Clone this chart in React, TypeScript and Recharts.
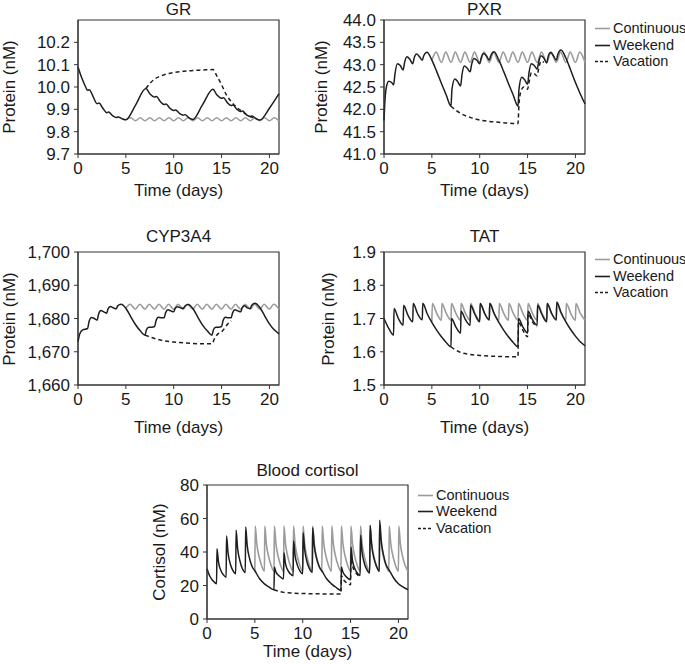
import { LineChart, Line, XAxis, YAxis, ReferenceArea } from 'recharts';

type Pt = [number, number];

const dayTicks = [0, 5, 10, 15, 20];

// ---- GR ----
const grTicks = [9.7, 9.8, 9.9, 10.0, 10.1, 10.2];
const grWeekend: Pt[] = [
    [0, 10.09], [0.4, 10.04], [0.8, 10.0], [1.0, 9.985], [1.2, 9.988], [1.5, 9.965], [2.0, 9.925], [2.2, 9.928],
    [2.6, 9.905], [3.0, 9.885], [3.2, 9.888], [3.6, 9.872], [4.0, 9.863], [4.2, 9.866], [4.6, 9.858], [5.0, 9.853],
    [6.0, 9.918], [7.1, 9.993],
    [7.5, 9.97], [8.0, 9.955], [8.2, 9.957], [8.6, 9.935], [9.0, 9.922], [9.2, 9.924], [9.6, 9.905], [10.0, 9.895],
    [10.2, 9.897], [10.6, 9.882], [11.0, 9.874], [11.2, 9.876], [11.6, 9.862], [12.0, 9.855],
    [13.0, 9.92], [14.1, 9.99],
    [14.5, 9.965], [15.0, 9.95], [15.2, 9.952], [15.6, 9.93], [16.0, 9.917], [16.2, 9.919], [16.6, 9.9], [17.0, 9.89],
    [17.2, 9.892], [17.6, 9.875], [18.0, 9.868], [18.2, 9.87], [18.6, 9.858], [19.0, 9.852],
    [20.0, 9.905], [21.0, 9.97],
];
const grContinuous: Pt[] = [
    [5, 9.853], [5.5, 9.862], [6, 9.849], [6.5, 9.862], [7, 9.849], [7.5, 9.862], [8, 9.849], [8.5, 9.862],
    [9, 9.849], [9.5, 9.862], [10, 9.849], [10.5, 9.862], [11, 9.849], [11.5, 9.862], [12, 9.849], [12.5, 9.862],
    [13, 9.849], [13.5, 9.862], [14, 9.849], [14.5, 9.862], [15, 9.849], [15.5, 9.862], [16, 9.849], [16.5, 9.862],
    [17, 9.849], [17.5, 9.862], [18, 9.849], [18.5, 9.862], [19, 9.849], [19.5, 9.862], [20, 9.849], [20.5, 9.862],
    [21, 9.848],
];
const grVacation: Pt[] = [
    [7.1, 9.993], [7.6, 10.02], [8, 10.035], [9, 10.055], [10, 10.065], [11, 10.07], [12, 10.074], [13, 10.076],
    [14.1, 10.078], [14.5, 10.05], [15, 10.01], [15.5, 9.965], [16, 9.935], [16.5, 9.912], [17, 9.895], [17.5, 9.88],
    [18, 9.868], [18.5, 9.86],
];

// ---- PXR ----
const pxrTicks = [41.0, 41.5, 42.0, 42.5, 43.0, 43.5, 44.0];
const pxrWeekend: Pt[] = [
    [0, 41.75], [0.1, 42.2], [0.25, 42.5], [0.5, 42.63], [0.8, 42.6], [1.0, 42.55], [1.15, 42.8], [1.4, 43.02],
    [1.7, 42.98], [2.0, 42.88], [2.15, 43.05], [2.4, 43.18], [2.7, 43.12], [3.0, 43.02], [3.15, 43.15], [3.4, 43.24],
    [3.7, 43.18], [4.0, 43.1], [4.15, 43.2], [4.5, 43.28], [5.0, 43.1], [5.5, 42.85], [6.0, 42.58], [6.5, 42.32],
    [7.0, 42.07],
    [7.1, 42.45], [7.4, 42.68], [7.7, 42.62], [8.0, 42.52], [8.15, 42.78], [8.4, 42.97], [8.7, 42.92], [9.0, 42.84],
    [9.15, 43.0], [9.4, 43.14], [9.7, 43.1], [10.0, 43.02], [10.15, 43.15], [10.4, 43.25], [10.7, 43.2], [11.0, 43.1],
    [11.15, 43.2], [11.5, 43.29], [12.0, 43.1], [12.5, 42.85], [13.0, 42.58], [13.5, 42.32], [14.0, 42.07],
    [14.1, 42.45], [14.4, 42.72], [14.7, 42.66], [15.0, 42.56], [15.15, 42.82], [15.4, 43.02], [15.7, 42.98],
    [16.0, 42.9], [16.15, 43.05], [16.4, 43.2], [16.7, 43.15], [17.0, 43.04], [17.15, 43.18], [17.4, 43.27],
    [17.7, 43.2], [18.0, 43.1], [18.15, 43.22], [18.5, 43.33], [19.0, 43.15], [19.5, 42.88], [20.0, 42.6],
    [20.5, 42.35], [21.0, 42.12],
];
const pxrContinuous: Pt[] = [
    [5, 43.1], [5.45, 43.28], [6, 43.05], [6.45, 43.28], [7, 43.05], [7.45, 43.28], [8, 43.05], [8.45, 43.28],
    [9, 43.05], [9.45, 43.28], [10, 43.05], [10.45, 43.28], [11, 43.05], [11.45, 43.28], [12, 43.05], [12.45, 43.28],
    [13, 43.05], [13.45, 43.28], [14, 43.05], [14.45, 43.28], [15, 43.05], [15.45, 43.28], [16, 43.05], [16.45, 43.28],
    [17, 43.05], [17.45, 43.28], [18, 43.05], [18.45, 43.28], [19, 43.05], [19.45, 43.28], [20, 43.05], [20.45, 43.28],
    [21, 43.05],
];
const pxrVacation: Pt[] = [
    [7, 42.07], [7.5, 41.98], [8, 41.91], [9, 41.82], [10, 41.76], [11, 41.73], [12, 41.71], [13, 41.69], [14, 41.68],
    [14.1, 42.1], [14.3, 42.4], [14.6, 42.5], [15.0, 42.45], [15.15, 42.6], [15.4, 42.82], [15.7, 42.8], [16.0, 42.75],
    [16.15, 42.9], [16.4, 43.08], [16.7, 43.05],
];

// ---- CYP3A4 ----
const cypTicks = [1660, 1670, 1680, 1690, 1700];
const cypWeekend: Pt[] = [
    [0, 1673], [0.2, 1675.5], [0.5, 1676.6], [1.0, 1677], [1.15, 1679], [1.4, 1680.3], [1.7, 1680], [2.0, 1679.5],
    [2.15, 1681.3], [2.4, 1682.4], [2.7, 1682], [3.0, 1681.6], [3.15, 1683], [3.4, 1683.6], [3.7, 1683.2],
    [4.0, 1682.9], [4.15, 1683.8], [4.5, 1684.3], [5.0, 1683.1], [5.5, 1680.6], [6.0, 1678.2], [6.5, 1676.3],
    [7.0, 1675],
    [7.15, 1676.6], [7.4, 1677.4], [7.7, 1677.4], [8.0, 1677.6], [8.15, 1679.3], [8.4, 1680.4], [8.7, 1680.2],
    [9.0, 1680.2], [9.15, 1681.7], [9.4, 1682.6], [9.7, 1682.3], [10.0, 1682], [10.15, 1683], [10.4, 1683.5],
    [10.7, 1683.2], [11.0, 1683], [11.15, 1683.7], [11.5, 1684.2], [12.0, 1683], [12.5, 1680.5], [13.0, 1678.1],
    [13.5, 1676.3], [14.0, 1675],
    [14.15, 1676.6], [14.4, 1677.4], [14.7, 1677.4], [15.0, 1677.6], [15.15, 1679.3], [15.4, 1680.4], [15.7, 1680.2],
    [16.0, 1680.2], [16.15, 1681.7], [16.4, 1682.6], [16.7, 1682.3], [17.0, 1682], [17.15, 1683.2], [17.4, 1683.8],
    [17.7, 1683.2], [18.0, 1683], [18.15, 1684], [18.5, 1684.6], [19.0, 1683.3], [19.5, 1680.8], [20.0, 1678.4],
    [20.5, 1676.6], [21.0, 1675.4],
];
const cypContinuous: Pt[] = [
    [5, 1683.1], [5.45, 1684.3], [6, 1682.8], [6.45, 1684.3], [7, 1682.8], [7.45, 1684.3], [8, 1682.8], [8.45, 1684.3],
    [9, 1682.8], [9.45, 1684.3], [10, 1682.8], [10.45, 1684.3], [11, 1682.8], [11.45, 1684.3], [12, 1682.8],
    [12.45, 1684.3], [13, 1682.8], [13.45, 1684.3], [14, 1682.8], [14.45, 1684.3], [15, 1682.8], [15.45, 1684.3],
    [16, 1682.8], [16.45, 1684.3], [17, 1682.8], [17.45, 1684.3], [18, 1682.8], [18.45, 1684.3], [19, 1682.8],
    [19.45, 1684.3], [20, 1682.8], [20.45, 1684.3], [21, 1682.8],
];
const cypVacation: Pt[] = [
    [7, 1675], [7.5, 1674.5], [8, 1674], [9, 1673.3], [10, 1672.9], [11, 1672.7], [12, 1672.5], [13, 1672.4],
    [14, 1672.4], [14.3, 1674.2], [14.6, 1675.3], [15, 1676], [15.3, 1677], [15.6, 1678.2], [16, 1679.3],
];

// ---- TAT ----
const tatTicks = [1.5, 1.6, 1.7, 1.8, 1.9];
const tatWeekend: Pt[] = [
    [0, 1.70], [0.5, 1.67], [1.0, 1.65], [1.05, 1.73], [1.5, 1.70], [2.0, 1.68], [2.05, 1.74], [2.5, 1.71],
    [3.0, 1.69], [3.05, 1.745], [3.5, 1.715], [4.0, 1.696], [4.05, 1.746], [4.5, 1.715], [5.0, 1.688], [5.5, 1.665],
    [6.0, 1.645], [6.5, 1.628], [7.0, 1.615],
    [7.05, 1.70], [7.5, 1.675], [8.0, 1.656], [8.05, 1.722], [8.5, 1.697], [9.0, 1.68], [9.05, 1.74], [9.5, 1.712],
    [10.0, 1.69], [10.05, 1.745], [10.5, 1.716], [11.0, 1.696], [11.05, 1.746], [11.5, 1.715], [12.0, 1.688],
    [12.5, 1.665], [13.0, 1.645], [13.5, 1.628], [14.0, 1.615],
    [14.05, 1.70], [14.5, 1.675], [15.0, 1.656], [15.05, 1.722], [15.5, 1.697], [16.0, 1.68], [16.05, 1.74],
    [16.5, 1.712], [17.0, 1.69], [17.05, 1.745], [17.5, 1.716], [18.0, 1.696], [18.05, 1.75], [18.5, 1.718],
    [19.0, 1.69], [19.5, 1.667], [20.0, 1.647], [20.5, 1.63], [21.0, 1.618],
];
const tatContinuous: Pt[] = [
    [5, 1.69], [5.05, 1.745], [5.5, 1.716], [6, 1.695], [6.05, 1.745], [6.5, 1.716], [7, 1.695], [7.05, 1.745],
    [7.5, 1.716], [8, 1.695], [8.05, 1.745], [8.5, 1.716], [9, 1.695], [9.05, 1.745], [9.5, 1.716], [10, 1.695],
    [10.05, 1.745], [10.5, 1.716], [11, 1.695], [11.05, 1.745], [11.5, 1.716], [12, 1.695], [12.05, 1.745],
    [12.5, 1.716], [13, 1.695], [13.05, 1.745], [13.5, 1.716], [14, 1.695], [14.05, 1.745], [14.5, 1.716],
    [15, 1.695], [15.05, 1.745], [15.5, 1.716], [16, 1.695], [16.05, 1.745], [16.5, 1.716], [17, 1.695],
    [17.05, 1.745], [17.5, 1.716], [18, 1.695], [18.05, 1.745], [18.5, 1.716], [19, 1.695], [19.05, 1.745],
    [19.5, 1.716], [20, 1.695], [20.05, 1.745], [20.5, 1.716], [21, 1.695],
];
const tatVacation: Pt[] = [
    [7, 1.615], [7.5, 1.605], [8, 1.598], [9, 1.592], [10, 1.589], [11, 1.587], [12, 1.586], [13, 1.585], [14, 1.585],
    [14.05, 1.69], [14.5, 1.665], [15, 1.645], [15.05, 1.715], [15.5, 1.69], [16, 1.675],
];

// ---- Blood cortisol ----
const cortTicks = [0, 20, 40, 60, 80];
const cortWeekend: Pt[] = [
    [0, 30], [0.3, 25.5], [0.6, 23], [1.0, 21], [1.04, 42], [1.2, 34], [1.45, 29], [1.7, 26.5], [2.0, 25],
    [2.04, 49.5], [2.2, 39.5], [2.45, 32.5], [2.7, 29], [3.0, 27], [3.04, 53], [3.2, 42], [3.45, 34.5], [3.7, 30],
    [4.0, 27.8], [4.04, 55], [4.2, 44], [4.45, 36], [4.7, 31.5], [5.0, 28.8], [5.5, 24], [6.0, 21], [6.5, 19],
    [7.0, 17.5],
    [7.04, 31], [7.2, 28], [7.5, 26], [8.0, 24], [8.04, 39.5], [8.2, 33], [8.45, 29], [8.7, 27], [9.0, 25.8],
    [9.04, 46.5], [9.2, 38], [9.45, 32], [9.7, 28.8], [10.0, 27], [10.04, 51.5], [10.2, 41.5], [10.45, 34],
    [10.7, 30], [11.0, 27.8], [11.04, 54.5], [11.2, 44], [11.45, 36], [11.7, 31.5], [12.0, 28.8], [12.5, 24],
    [13.0, 21], [13.5, 18.8], [14.0, 17],
    [14.04, 31], [14.2, 28], [14.5, 25.5], [15.0, 23.5], [15.04, 43], [15.2, 35], [15.45, 30], [15.7, 27.5],
    [16.0, 26], [16.04, 50], [16.2, 40], [16.45, 33], [16.7, 29.5], [17.0, 27.5], [17.04, 56], [17.2, 44.5],
    [17.45, 36], [17.7, 31.5], [18.0, 28.5], [18.04, 59], [18.2, 47], [18.45, 38], [18.7, 32.5], [19.0, 29.5],
    [19.5, 24.5], [20.0, 21], [20.5, 19], [21.0, 17.5],
];
const cortContinuous: Pt[] = [
    [5, 28.8], [5.04, 55.5], [5.2, 45], [5.45, 37], [5.7, 32], [6, 28.5], [6.04, 55.5], [6.2, 45], [6.45, 37],
    [6.7, 32], [7, 28.5], [7.04, 55.5], [7.2, 45], [7.45, 37], [7.7, 32], [8, 28.5], [8.04, 55.5], [8.2, 45],
    [8.45, 37], [8.7, 32], [9, 28.5], [9.04, 55.5], [9.2, 45], [9.45, 37], [9.7, 32], [10, 28.5], [10.04, 55.5],
    [10.2, 45], [10.45, 37], [10.7, 32], [11, 28.5], [11.04, 55.5], [11.2, 45], [11.45, 37], [11.7, 32], [12, 28.5],
    [12.04, 55.5], [12.2, 45], [12.45, 37], [12.7, 32], [13, 28.5], [13.04, 55.5], [13.2, 45], [13.45, 37],
    [13.7, 32], [14, 28.5], [14.04, 55.5], [14.2, 45], [14.45, 37], [14.7, 32], [15, 28.5], [15.04, 55.5],
    [15.2, 45], [15.45, 37], [15.7, 32], [16, 28.5], [16.04, 55.5], [16.2, 45], [16.45, 37], [16.7, 32], [17, 28.5],
    [17.04, 55.5], [17.2, 45], [17.45, 37], [17.7, 32], [18, 28.5], [18.04, 55.5], [18.2, 45], [18.45, 37],
    [18.7, 32], [19, 28.5], [19.04, 55.5], [19.2, 45], [19.45, 37], [19.7, 32], [20, 28.5], [20.04, 55.5],
    [20.2, 45], [20.45, 37], [20.7, 32], [21, 28.5],
];
const cortVacation: Pt[] = [
    [7, 17.5], [7.5, 16.5], [8, 15.9], [9, 15.4], [10, 15.2], [11, 15.1], [12, 15], [13, 15], [14, 14.9],
    [14.04, 26], [14.2, 24], [14.5, 22], [15, 20.5], [15.04, 38], [15.2, 32], [15.45, 28.5], [15.7, 26.5], [16, 25],
];

const legendItems = ['Continuous', 'Weekend', 'Vacation'];

const FONT = '"Liberation Sans", Arial, Helvetica, sans-serif';
const INK = '#1a1a1a';
const GREY = '#9c9c9c';
const BLACK = '#1e1e1e';

const rows = (pts: Pt[]) => pts.map(([t, v]) => ({ t, v }));

type PanelProps = {
    x: number;
    y: number;
    w: number;
    h: number;
    title: string;
    titleY: number;
    yLabel: string;
    yLabelX: number;
    xLabelY: number;
    domain: [number, number];
    ticks: number[];
    fmt: (v: number) => string;
    continuous: Pt[];
    weekend: Pt[];
    vacation: Pt[];
};

function Panel(p: PanelProps) {
    const padL = 64;
    const padT = 14;
    const padR = 6;
    const padB = 30;
    const cx = p.x + p.w / 2;
    const cy = p.y + p.h / 2;
    return (
        <>
            <div style={{ position: 'absolute', left: cx - 100, top: p.titleY - 10, width: 200, textAlign: 'center', fontSize: 17, lineHeight: '20px' }}>
                {p.title}
            </div>
            <div style={{ position: 'absolute', left: cx - 100, top: p.xLabelY - 10, width: 200, textAlign: 'center', fontSize: 17, lineHeight: '20px' }}>
                Time (days)
            </div>
            <div
                style={{
                    position: 'absolute',
                    left: p.yLabelX - 80,
                    top: cy - 9,
                    width: 160,
                    height: 18,
                    textAlign: 'center',
                    fontSize: 17,
                    lineHeight: '18px',
                    transform: 'rotate(-90deg)',
                }}
            >
                {p.yLabel}
            </div>
            <div style={{ position: 'absolute', left: p.x - padL, top: p.y - padT }}>
                <LineChart
                    width={p.w + padL + padR}
                    height={p.h + padT + padB}
                    margin={{ top: padT, right: padR, left: 0, bottom: 0 }}
                >
                    <XAxis
                        type="number"
                        dataKey="t"
                        domain={[0, 21]}
                        ticks={dayTicks}
                        interval={0}
                        height={padB}
                        stroke="#333"
                        tickSize={4}
                        tickMargin={4}
                        tick={{ fill: INK, fontSize: 17, fontFamily: FONT }}
                    />
                    <YAxis
                        type="number"
                        domain={p.domain}
                        ticks={p.ticks}
                        interval={0}
                        width={padL}
                        stroke="#333"
                        tickSize={4}
                        tickMargin={4}
                        tickFormatter={p.fmt}
                        tick={{ fill: INK, fontSize: 17, fontFamily: FONT }}
                    />
                    <ReferenceArea
                        x1={0}
                        x2={21}
                        y1={p.domain[0]}
                        y2={p.domain[1]}
                        fill="none"
                        stroke="#333"
                        strokeWidth={1.2}
                    />
                    <Line data={rows(p.continuous)} dataKey="v" name="Continuous" type="monotone" stroke={GREY} strokeWidth={1.6} dot={false} isAnimationActive={false} />
                    <Line data={rows(p.vacation)} dataKey="v" name="Vacation" type="monotone" stroke={BLACK} strokeWidth={1.5} strokeDasharray="4 3" dot={false} isAnimationActive={false} />
                    <Line data={rows(p.weekend)} dataKey="v" name="Weekend" type="monotone" stroke={BLACK} strokeWidth={1.5} dot={false} isAnimationActive={false} />
                </LineChart>
            </div>
        </>
    );
}

function LegendBox({ x, y }: { x: number; y: number }) {
    const styles = [
        { stroke: GREY, dash: undefined },
        { stroke: BLACK, dash: undefined },
        { stroke: BLACK, dash: '3 2' },
    ];
    return (
        <>
            {legendItems.map((name, i) => (
                <div
                    key={name}
                    style={{ position: 'absolute', left: x, top: y + i * 16.7 - 9, height: 18, lineHeight: '18px', fontSize: 14.5, whiteSpace: 'nowrap', display: 'flex', alignItems: 'center' }}
                >
                    <svg width={15} height={18} style={{ display: 'block' }}>
                        <line x1={0} x2={15} y1={9.5} y2={9.5} stroke={styles[i].stroke} strokeWidth={1.6} strokeDasharray={styles[i].dash} />
                    </svg>
                    <span style={{ marginLeft: 3 }}>{name}</span>
                </div>
            ))}
        </>
    );
}

const f1 = (v: number) => v.toFixed(1);
const fComma = (v: number) => v.toLocaleString('en-US');
const fInt = (v: number) => String(v);

export default function App() {
    return (
        <div style={{ position: 'absolute', left: 0, top: 0, width: 685, height: 664, background: '#fff', fontFamily: FONT, color: INK, overflow: 'hidden' }}>
            <Panel x={78} y={20} w={201} h={134} title="GR" titleY={10} yLabel="Protein (nM)" yLabelX={10} xLabelY={191}
                domain={[9.7, 10.3]} ticks={grTicks} fmt={f1} continuous={grContinuous} weekend={grWeekend} vacation={grVacation} />
            <Panel x={384} y={20} w={201} h={134} title="PXR" titleY={10} yLabel="Protein (nM)" yLabelX={322} xLabelY={191}
                domain={[41, 44]} ticks={pxrTicks} fmt={f1} continuous={pxrContinuous} weekend={pxrWeekend} vacation={pxrVacation} />
            <Panel x={78} y={252} w={201} h={133} title="CYP3A4" titleY={237} yLabel="Protein (nM)" yLabelX={10} xLabelY={428}
                domain={[1660, 1700]} ticks={cypTicks} fmt={fComma} continuous={cypContinuous} weekend={cypWeekend} vacation={cypVacation} />
            <Panel x={384} y={252} w={201} h={133} title="TAT" titleY={237} yLabel="Protein (nM)" yLabelX={329} xLabelY={428}
                domain={[1.5, 1.9]} ticks={tatTicks} fmt={f1} continuous={tatContinuous} weekend={tatWeekend} vacation={tatVacation} />
            <Panel x={207} y={485} w={201} h={134} title="Blood cortisol" titleY={471} yLabel="Cortisol (nM)" yLabelX={160} xLabelY={652}
                domain={[0, 80]} ticks={cortTicks} fmt={fInt} continuous={cortContinuous} weekend={cortWeekend} vacation={cortVacation} />
            <LegendBox x={595} y={28} />
            <LegendBox x={595} y={259} />
            <LegendBox x={418} y={494.5} />
        </div>
    );
}
